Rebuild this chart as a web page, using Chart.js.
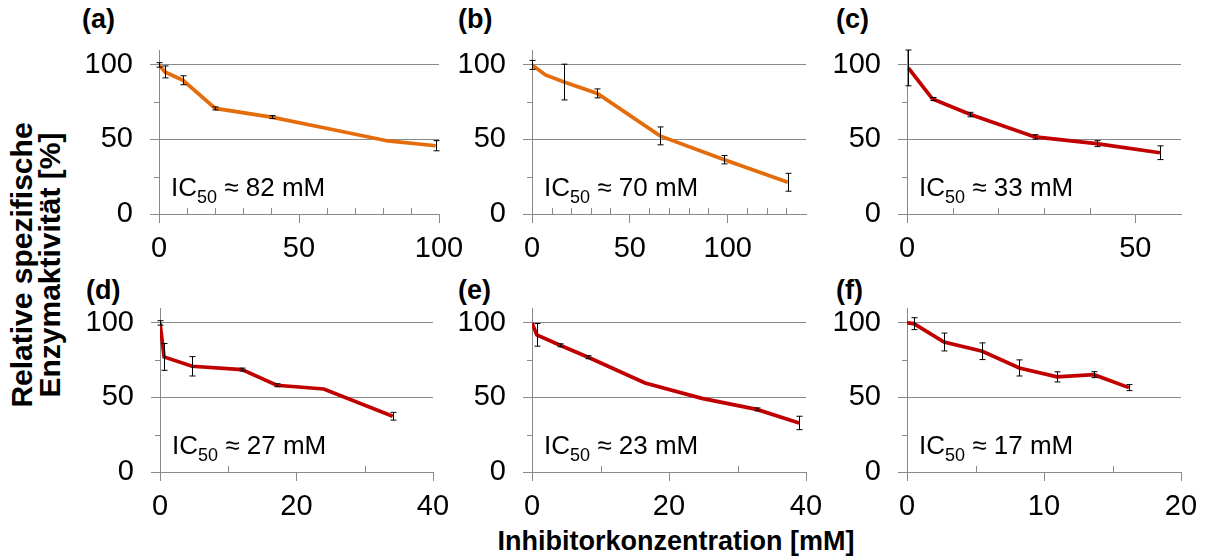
<!DOCTYPE html>
<html>
<head>
<meta charset="utf-8">
<script src="https://cdn.jsdelivr.net/npm/chart.js@4.4.1/dist/chart.umd.min.js"></script>
<style>
body { margin: 0; background: #fff; width: 1209px; height: 560px; overflow: hidden; position: relative; font-family: "Liberation Sans", Arial, sans-serif; }
canvas { position: absolute; }
.tag { position: absolute; font-weight: bold; font-size: 27px; line-height: 27px; }
#ytitle { position: absolute; left: 36px; top: 265px; transform: translate(-50%, -50%) rotate(-90deg); font-weight: bold; font-size: 30px; line-height: 28px; text-align: center; white-space: nowrap; }
#xtitle { position: absolute; left: 676px; top: 541px; transform: translate(-50%, -50%); font-weight: bold; font-size: 27px; white-space: nowrap; }
</style>
</head>
<body>
<div class="tag" style="left:82px;top:6px">(a)</div>
<div class="tag" style="left:458px;top:6px">(b)</div>
<div class="tag" style="left:836px;top:6px">(c)</div>
<div class="tag" style="left:86px;top:277px">(d)</div>
<div class="tag" style="left:458px;top:277px">(e)</div>
<div class="tag" style="left:836px;top:277px">(f)</div>
<div id="ytitle">Relative spezifische<br>Enzymaktivität [%]</div>
<div id="xtitle">Inhibitorkonzentration [mM]</div>
<script>
// Panel data: inhibitor concentration (mM), relative activity (%), error (+/-)
const xA = [0, 2.1, 8.6, 20.1, 40.2, 61, 81.8, 98.8];
const yA = [100, 95.3, 89.7, 70.8, 65, 57, 49, 45.8];
const eA = [1.5, 4, 3, 1, 1, 0, 0, 3.4];

const xB = [0, 6.9, 16.4, 33.4, 65.4, 98.3, 130.7];
const yB = [100, 93.3, 88.5, 80.9, 52.4, 36.4, 21.3];
const eB = [3, 0, 12, 3, 6, 2.8, 6];

const xC = [0.3, 5.6, 13.9, 28, 41.5, 55.4];
const yC = [98, 77.1, 66.7, 51.7, 47.2, 41.1];
const eC = [12, 1, 1.5, 1.5, 2, 4.6];

const xD = [0, 0.6, 4.7, 12, 17.1, 24, 34.1];
const yD = [100, 77.2, 70.9, 68.7, 58.2, 55.7, 37.4];
const eD = [1.5, 9, 6.5, 1, 1, 0, 2.6];

const xE = [0, 0.7, 4.1, 8.2, 16.5, 24.8, 32.8, 39];
const yE = [100, 92, 85, 77, 59.7, 49.4, 42, 32.9];
const eE = [0, 7.6, 1, 1, 0, 0, 1, 4.5];

const xF = [0, 0.5, 2.7, 5.5, 8.2, 10.95, 13.65, 16.2];
const yF = [100, 99.5, 87.2, 81, 69.8, 63.8, 65.3, 56.6];
const eF = [0, 4, 6, 5.6, 5.4, 3.4, 2, 2];

// axis settings per panel
const xMax = [100, 140, 60, 40, 40, 20];
const xMajor = [50, 50, 50, 20, 20, 10];
const xMinor = [10, 10, 10, 10, 10, 5];
const yTicks = [0, 50, 100];
const yMinor = [25, 75];
const icValues = ['82', '70', '33', '27', '23', '17'];

const ORANGE = '#E46C0A';
const RED = '#C00000';
const GRAY = '#8a8a8a';
const FAM = '"Liberation Sans", Arial, sans-serif';

const panels = [
    { x: xA, y: yA, e: eA, color: ORANGE },
    { x: xB, y: yB, e: eB, color: ORANGE },
    { x: xC, y: yC, e: eC, color: RED },
    { x: xD, y: yD, e: eD, color: RED },
    { x: xE, y: yE, e: eE, color: RED },
    { x: xF, y: yF, e: eF, color: RED }
];

// plot area boxes in page pixels
const boxes = [
    { L: 159, R: 439, T: 50, B: 214 },
    { L: 532, R: 806, T: 50, B: 214 },
    { L: 907, R: 1181, T: 50, B: 214 },
    { L: 160, R: 433, T: 308, B: 472 },
    { L: 532, R: 806, T: 308, B: 472 },
    { L: 907, R: 1181, T: 308, B: 472 }
];

const PAD_TOP = 45;

function makePanel(i) {
    const p = panels[i];
    const box = boxes[i];
    const W = box.R - box.L + 140;
    const H = box.B - box.T + PAD_TOP + 60;
    const cv = document.createElement('canvas');
    cv.width = W;
    cv.height = H;
    cv.style.left = (box.L - 100) + 'px';
    cv.style.top = (box.T - PAD_TOP) + 'px';
    cv.style.width = W + 'px';
    cv.style.height = H + 'px';
    document.body.appendChild(cv);

    // error bars, minor ticks and IC50 note
    const extras = {
        id: 'extras' + i,
        afterDatasetsDraw(chart) {
            const ctx = chart.ctx;
            const xs = chart.scales.x;
            const ys = chart.scales.y;
            const ca = chart.chartArea;
            ctx.save();

            // minor ticks
            ctx.strokeStyle = GRAY;
            ctx.lineWidth = 1;
            ctx.beginPath();
            for (let v = xMinor[i]; v < xMax[i]; v += xMinor[i]) {
                if (v % xMajor[i] === 0) continue;
                const px = Math.round(xs.getPixelForValue(v)) + 0.5;
                ctx.moveTo(px, ca.bottom);
                ctx.lineTo(px, ca.bottom - 6);
            }
            yMinor.forEach(v => {
                const py = Math.round(ys.getPixelForValue(v)) + 0.5;
                ctx.moveTo(ca.left, py);
                ctx.lineTo(ca.left - 5, py);
            });
            ctx.stroke();

            // error bars
            ctx.strokeStyle = '#000';
            ctx.lineWidth = 1;
            ctx.beginPath();
            p.x.forEach((xv, k) => {
                if (!p.e[k]) return;
                const px = Math.round(xs.getPixelForValue(xv)) + 0.5;
                const top = ys.getPixelForValue(p.y[k] + p.e[k]);
                const bot = ys.getPixelForValue(p.y[k] - p.e[k]);
                ctx.moveTo(px, top);
                ctx.lineTo(px, bot);
                ctx.moveTo(px - 3, top);
                ctx.lineTo(px + 3, top);
                ctx.moveTo(px - 3, bot);
                ctx.lineTo(px + 3, bot);
            });
            ctx.stroke();

            // IC50 label
            ctx.fillStyle = '#000';
            ctx.textBaseline = 'alphabetic';
            let tx = ca.left + 12;
            const ty = ca.bottom - 18;
            ctx.font = '26px ' + FAM;
            ctx.fillText('IC', tx, ty);
            tx += ctx.measureText('IC').width;
            ctx.font = '18px ' + FAM;
            ctx.fillText('50', tx, ty + 7);
            tx += ctx.measureText('50').width;
            ctx.font = '26px ' + FAM;
            ctx.fillText(' ≈ ' + icValues[i] + ' mM', tx, ty);
            ctx.restore();
        }
    };

    new Chart(cv, {
        type: 'scatter',
        data: {
            datasets: [{
                data: p.x.map((v, k) => ({ x: v, y: p.y[k] })),
                showLine: true,
                borderColor: p.color,
                borderWidth: 3.7,
                pointRadius: 0,
                tension: 0
            }]
        },
        options: {
            responsive: false,
            animation: false,
            events: [],
            layout: { padding: { left: 0, top: PAD_TOP, right: 40, bottom: 0 } },
            plugins: { legend: { display: false }, tooltip: { enabled: false } },
            scales: {
                x: {
                    type: 'linear',
                    min: 0,
                    max: xMax[i],
                    afterFit: s => { s.height = 60; },
                    ticks: { stepSize: xMajor[i], includeBounds: false, maxRotation: 0, autoSkip: false, color: '#000', padding: 9, font: { size: 29, family: FAM } },
                    grid: { drawOnChartArea: false, tickLength: 9, color: GRAY },
                    border: { color: GRAY, width: 1 }
                },
                y: {
                    type: 'linear',
                    min: 0,
                    max: 110,
                    afterFit: s => { s.width = 100; },
                    afterBuildTicks: s => { s.ticks = yTicks.map(v => ({ value: v })); },
                    ticks: { color: '#000', padding: 17, font: { size: 29, family: FAM } },
                    grid: { tickLength: 9, color: c => (c.tick && c.tick.value === 0) ? 'rgba(0,0,0,0)' : GRAY, tickColor: GRAY },
                    border: { color: GRAY, width: 1 }
                }
            }
        },
        plugins: [extras]
    });
}

for (let i = 0; i < 6; i++) makePanel(i);
</script>
</body>
</html>
